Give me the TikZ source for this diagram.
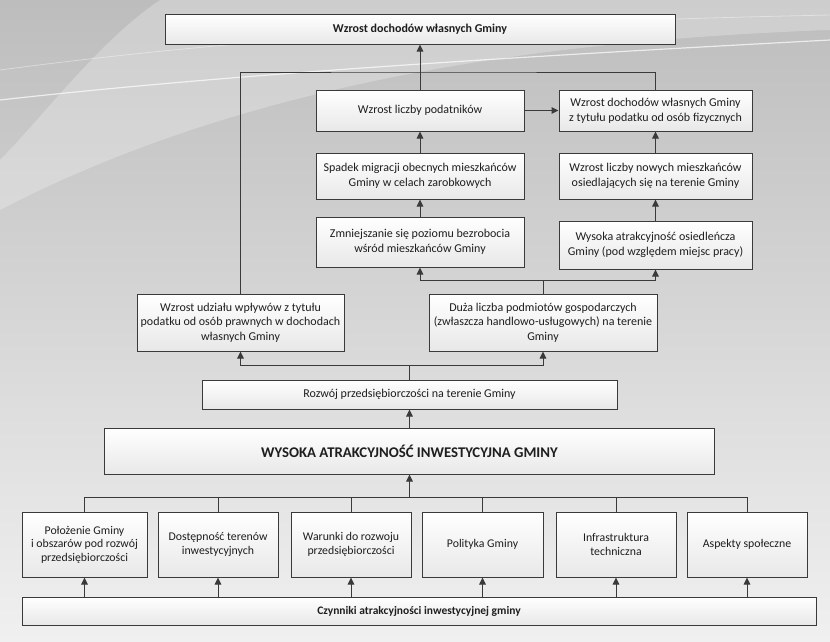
\documentclass[tikz,border=0pt]{standalone}
\usepackage{fontspec}
\setmainfont{Carlito}
\usetikzlibrary{arrows.meta}
\definecolor{bgtop}{HTML}{BDBDBD}
\definecolor{bgmid}{HTML}{D6D6D6}
\definecolor{bgbot}{HTML}{F0F0F0}
\definecolor{edge}{HTML}{3A3A3A}
\definecolor{txt}{HTML}{1E1E1E}
\tikzset{
  box/.style={draw=edge, line width=1pt, top color=white, bottom color=black!9,
    align=center, text=txt, inner sep=1pt, font=\fontsize{12}{14.6}\selectfont},
  sbox/.style={box, font=\fontsize{11.8}{13.6}\selectfont},
  conn/.style={draw=edge, line width=1pt},
  arr/.style={conn, -{Triangle[length=7pt,width=6.5pt]}},
}
\begin{document}
\begin{tikzpicture}[x=1pt,y=-1pt]
\useasboundingbox (0,0) rectangle (830,641);
\shade[top color=bgtop, middle color=bgmid, bottom color=bgbot] (0,0) rectangle (830,641);
\fill[white, opacity=0.25] (0,210) .. controls (250,80) and (550,40) .. (830,30) -- (830,0) -- (160,0) .. controls (100,40) and (40,120) .. (0,160) -- cycle;
\draw[white, opacity=0.7, line width=1.2pt] (0,100) .. controls (250,72) and (550,55) .. (830,40);
\draw[white, opacity=0.4, line width=0.8pt] (0,70) .. controls (300,30) and (600,20) .. (830,15);

% nodes
\node[box, minimum width=510, minimum height=30, font=\bfseries\fontsize{12}{14}\selectfont] (top) at (420,29) {Wzrost dochodów własnych Gminy};
\node[box, minimum width=208, minimum height=41] (pod) at (420,110.5) {Wzrost liczby podatników};
\node[box, minimum width=193, minimum height=41] (doch) at (655.5,110.5) {Wzrost dochodów własnych Gminy\\z tytułu podatku od osób fizycznych};
\node[box, minimum width=208, minimum height=46] (spadek) at (420,176) {Spadek migracji obecnych mieszkańców\\Gminy w celach zarobkowych};
\node[box, minimum width=193, minimum height=46] (nowych) at (655.5,176) {Wzrost liczby nowych mieszkańców\\osiedlających się na terenie Gminy};
\node[box, minimum width=208, minimum height=50] (zmn) at (420,242) {Zmniejszanie się poziomu bezrobocia\\wśród mieszkańców Gminy};
\node[box, minimum width=193, minimum height=48] (osied) at (655.5,245) {Wysoka atrakcyjność osiedleńcza\\Gminy (pod względem miejsc pracy)};
\node[box, minimum width=207, minimum height=57] (udz) at (240.5,322.5) {Wzrost udziału wpływów z tytułu\\podatku od osób prawnych w dochodach\\własnych Gminy};
\node[box, minimum width=228, minimum height=57] (duza) at (543,322.5) {Duża liczba podmiotów gospodarczych\\(zwłaszcza handlowo-usługowych) na terenie\\Gminy};
\node[box, minimum width=415, minimum height=29] (rozw) at (409.5,394.5) {Rozwój przedsiębiorczości na terenie Gminy};
\node[box, minimum width=610, minimum height=46, font=\bfseries\fontsize{14.8}{17}\selectfont] (wys) at (409.5,451) {WYSOKA ATRAKCYJNOŚĆ INWESTYCYJNA GMINY};
\node[sbox, minimum width=125, minimum height=65] (b1) at (84.5,544.5) {Położenie Gminy\\i obszarów pod rozwój\\przedsiębiorczości};
\node[sbox, minimum width=120, minimum height=65] (b2) at (218,544.5) {Dostępność terenów\\inwestycyjnych};
\node[sbox, minimum width=120, minimum height=65] (b3) at (351,544.5) {Warunki do rozwoju\\przedsiębiorczości};
\node[sbox, minimum width=121, minimum height=65] (b4) at (482.5,544.5) {Polityka Gminy};
\node[sbox, minimum width=120, minimum height=65] (b5) at (616,544.5) {Infrastruktura\\techniczna};
\node[sbox, minimum width=120, minimum height=65] (b6) at (747,544.5) {Aspekty społeczne};
\node[box, minimum width=794, minimum height=28, font=\bfseries\fontsize{11.5}{13}\selectfont] (czyn) at (419,611) {Czynniki atrakcyjności inwestycyjnej gminy};

% junctions
\coordinate (jt) at (420,72);
\coordinate (j2) at (543,280);
\coordinate (j3) at (409.5,365);
\coordinate (j4) at (409.5,497);

% connectors top part
\draw[conn] (udz.north) |- (jt) -| (doch.north);
\draw[conn] (pod.north) -- (jt);
\draw[arr] (jt) -- (top.south);
\draw[arr] (pod.east) -- (doch.west);
\draw[arr] (spadek.north) -- (pod.south);
\draw[arr] (nowych.north) -- (doch.south);
\draw[arr] (zmn.north) -- (spadek.south);
\draw[arr] (osied.north) -- (nowych.south);
\draw[conn] (duza.north) -- (j2);
\draw[arr] (j2) -| (zmn.south);
\draw[arr] (j2) -| (osied.south);
\draw[conn] (rozw.north) -- (j3);
\draw[arr] (j3) -| (udz.south);
\draw[arr] (j3) -| (duza.south);
\draw[arr] (wys.north) -- (rozw.south);

% bottom part
\draw[arr] (j4) -- (wys.south);
\draw[conn] (b1.north) |- (j4) -| (b6.north);
\foreach \b in {b2,b3,b4,b5} {
  \draw[conn] (\b.north) -- (\b.north |- j4);
  \draw[arr] (\b.south |- czyn.north) -- (\b.south);
}
\draw[arr] (b1.south |- czyn.north) -- (b1.south);
\draw[arr] (b6.south |- czyn.north) -- (b6.south);
\end{tikzpicture}
\end{document}
